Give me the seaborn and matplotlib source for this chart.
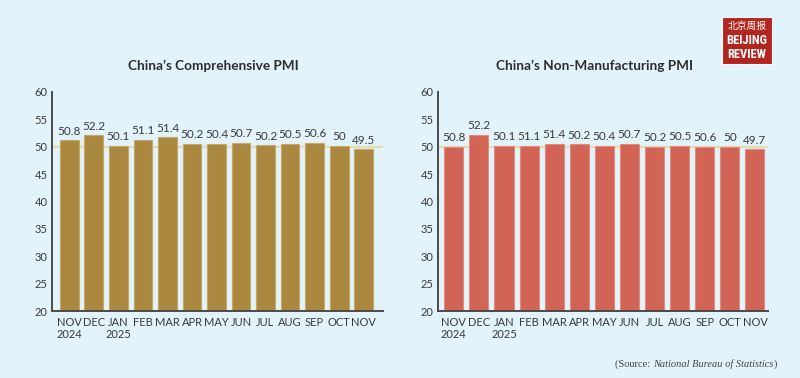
import numpy as np
import pandas as pd
import seaborn as sns
import matplotlib.pyplot as plt
from matplotlib.patches import Rectangle
from matplotlib import font_manager

months = ["NOV\n2024", "DEC", "JAN\n2025", "FEB", "MAR", "APR", "MAY",
          "JUN", "JUL", "AUG", "SEP", "OCT", "NOV"]

# bar heights as drawn
comp_bars = [51.2, 52.1, 50.2, 51.3, 51.7, 50.5, 50.55, 50.7, 50.25, 50.5, 50.7, 50.2, 49.5]
nonman_bars = [50.0, 52.2, 50.2, 50.2, 50.5, 50.4, 50.2, 50.5, 50.0, 50.2, 50.0, 50.0, 49.5]

# printed labels
comp_labels = ["50.8", "52.2", "50.1", "51.1", "51.4", "50.2", "50.4", "50.7", "50.2", "50.5", "50.6", "50", "49.5"]
nonman_labels = ["50.8", "52.2", "50.1", "51.1", "51.4", "50.2", "50.4", "50.7", "50.2", "50.5", "50.6", "50", "49.7"]

bg = "#E2F3FB"
txt = "#3A3A3A"

sns.set_style("white")
plt.rcParams['font.family'] = ['Lato', 'DejaVu Sans']

# look for a narrow font for the logo
fonts = font_manager.fontManager.ttflist
names = {f.name for f in fonts}
logo_font, logo_stretch, logo_size = "Roboto", "normal", 7.2
for cand in ["Roboto Condensed", "Liberation Sans Narrow", "DejaVu Sans Condensed", "Open Sans Condensed"]:
    if cand in names:
        logo_font, logo_size = cand, 9
        break
else:
    cond = [f.name for f in fonts if f.stretch in ("condensed", 300, "semi-condensed")]
    if cond:
        logo_font, logo_stretch, logo_size = cond[0], "condensed", 9

fig = plt.figure(figsize=(8, 3.78), dpi=100)
fig.patch.set_facecolor(bg)

panels = [
    ("China\u2019s Comprehensive PMI", comp_bars, comp_labels, "#AB883F", "#C8A865",
     [0.065, 0.177, 0.414, 0.58], (-0.71, 12.8), 0.77, 0.267),
    ("China\u2019s Non-Manufacturing PMI", nonman_bars, nonman_labels, "#D16455", "#E38B7E",
     [0.5475, 0.177, 0.4125, 0.58], (-0.63, 12.52), 0.76, 0.743),
]

for title, bars, labels, col, edge, pos, xl, w, tx in panels:
    ax = fig.add_axes(pos)
    ax.set_facecolor(bg)
    df = pd.DataFrame({"month": months, "pmi": bars})
    ax.axhline(50, color="#E4DBB2", lw=1.6, zorder=0)
    sns.barplot(data=df, x="month", y="pmi", ax=ax, color=col, saturation=1,
                width=w, edgecolor=edge, linewidth=0.8, zorder=2)
    ax.bar_label(ax.containers[0], labels=labels, padding=2.5,
                 fontsize=8.5, color=txt)
    ax.set_ylim(20, 60)
    ax.set_xlim(*xl)
    ax.set_yticks(np.arange(20, 61, 5))
    ax.set_xlabel("")
    ax.set_ylabel("")
    ax.tick_params(axis="both", length=0, labelsize=8, colors=txt)
    ax.tick_params(axis="y", pad=3)
    ax.tick_params(axis="x", pad=4)
    for lab in ax.get_xticklabels():
        lab.set_linespacing(1.2)
        lab.set_va("top")
    for s in ["top", "right"]:
        ax.spines[s].set_visible(False)
    for s in ["left", "bottom"]:
        ax.spines[s].set_color("#4A4A4A")
        ax.spines[s].set_linewidth(1.4)
    fig.text(tx, 0.827, title, ha="center", va="center", fontsize=9.8,
             fontweight="bold", color="#2E2E2E")

# source note
sy = 0.030
t1 = fig.text(0.769, sy, "(Source: ", fontsize=7.5, color="#444444",
              family="Liberation Serif", va="baseline")
t2 = fig.text(0, 0, "National Bureau of Statistics", fontsize=7.5, color="#444444",
              family="Liberation Serif", style="italic", va="baseline")
fig.canvas.draw()
r = fig.canvas.get_renderer()
bb = t1.get_window_extent(r)
t2.set_position((bb.x1 / fig.bbox.width, sy))
bb2 = t2.get_window_extent(r)
fig.text(bb2.x1 / fig.bbox.width, sy, ")", fontsize=7.5, color="#444444",
         family="Liberation Serif", va="baseline")

# logo
fig.patches.append(Rectangle((0.902, 0.832), 0.063, 0.123, transform=fig.transFigure,
                             facecolor="#B3261F", edgecolor="white", lw=0.8, zorder=5))
fig.text(0.9335, 0.932, "北京周报", fontsize=7, color="white", ha="center", va="center",
         family=["Noto Sans CJK SC", "DejaVu Sans"], zorder=6)
fig.text(0.9335, 0.893, "BEIJING", fontsize=logo_size, color="white", ha="center", va="center",
         fontweight="bold", fontstretch=logo_stretch, family=[logo_font, "DejaVu Sans"], zorder=6)
fig.text(0.9335, 0.857, "REVIEW", fontsize=logo_size, color="white", ha="center", va="center",
         fontweight="bold", fontstretch=logo_stretch, family=[logo_font, "DejaVu Sans"], zorder=6)

fig.savefig("out.png", dpi=100, facecolor=bg)
